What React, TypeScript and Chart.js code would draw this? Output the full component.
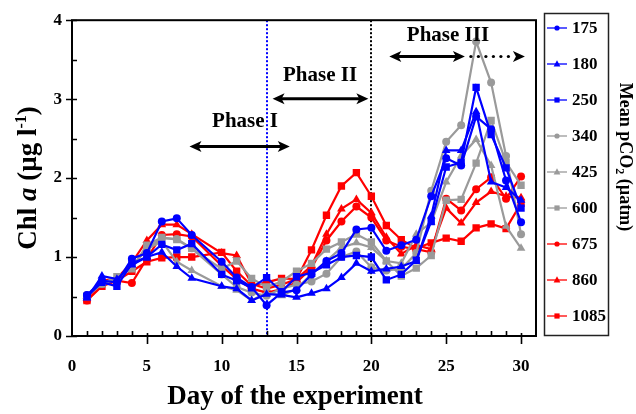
import { useEffect, useRef } from "react";
import { Chart, registerables } from "chart.js";

Chart.register(...registerables);

// Sampling days (no sample on day 9)
const days = [1, 2, 3, 4, 5, 6, 7, 8, 10, 11, 12, 13, 14, 15, 16, 17, 18, 19, 20, 21, 22, 23, 24, 25, 26, 27, 28, 29, 30];

// Chl a (µg l-1) per mesocosm, labelled by mean pCO2 (µatm)
const chl175 = [0.52, 0.70, 0.68, 0.98, 1.05, 1.45, 1.49, 1.28, 0.94, 0.74, 0.62, 0.39, 0.55, 0.58, 0.78, 0.95, 1.05, 1.35, 1.37, 1.08, 1.15, 1.22, 1.77, 2.25, 2.16, 2.78, 2.62, 1.97, 1.44];
const chl180 = [0.48, 0.76, 0.72, 0.90, 1.00, 1.06, 0.88, 0.73, 0.63, 0.60, 0.45, 0.53, 0.52, 0.49, 0.54, 0.60, 0.74, 0.92, 0.82, 0.85, 0.88, 0.95, 1.52, 2.35, 2.35, 2.84, 1.95, 1.88, 1.72];
const chl250 = [0.50, 0.68, 0.63, 0.92, 1.00, 1.16, 1.09, 1.17, 0.78, 0.70, 0.61, 0.74, 0.56, 0.75, 0.80, 0.90, 1.00, 1.02, 1.00, 0.71, 0.78, 0.96, 1.45, 2.14, 2.20, 3.15, 2.55, 2.13, 1.62];
const chl340 = [0.52, 0.66, 0.72, 0.88, 1.10, 1.24, 1.23, 1.11, 0.78, 0.62, 0.55, 0.51, 0.60, 0.65, 0.69, 0.79, 1.00, 1.07, 0.87, 0.83, 0.85, 1.05, 1.84, 2.46, 2.67, 3.73, 3.21, 2.28, 1.29];
const chl425 = [0.50, 0.68, 0.72, 0.88, 1.10, 1.20, 0.94, 0.83, 0.63, 0.58, 0.45, 0.55, 0.51, 0.60, 0.78, 0.95, 1.12, 1.18, 1.12, 0.95, 0.92, 1.29, 1.44, 1.95, 2.28, 2.49, 2.16, 1.39, 1.11];
const chl600 = [0.50, 0.66, 0.75, 0.85, 1.15, 1.25, 1.22, 1.11, 0.85, 0.95, 0.73, 0.62, 0.69, 0.82, 0.92, 1.10, 1.19, 1.29, 1.19, 0.95, 0.76, 0.86, 1.02, 1.72, 1.73, 2.19, 2.73, 2.20, 1.91];
const chl675 = [0.45, 0.65, 0.70, 0.67, 0.98, 1.28, 1.29, 1.26, 0.89, 0.72, 0.60, 0.55, 0.59, 0.68, 0.86, 1.21, 1.45, 1.64, 1.50, 1.21, 1.13, 1.10, 1.06, 1.74, 1.59, 1.86, 2.01, 1.74, 2.02];
const chl860 = [0.50, 0.70, 0.73, 0.93, 1.21, 1.41, 1.41, 1.29, 1.05, 1.02, 0.66, 0.60, 0.65, 0.72, 0.89, 1.29, 1.61, 1.73, 1.56, 1.25, 1.04, 1.15, 1.10, 1.62, 1.43, 1.69, 1.83, 1.77, 1.75];
const chl1085 = [0.45, 0.63, 0.70, 0.82, 0.94, 0.99, 1.00, 1.00, 1.06, 0.82, 0.64, 0.68, 0.73, 0.72, 1.09, 1.53, 1.90, 2.07, 1.77, 1.40, 1.22, 1.11, 1.18, 1.24, 1.20, 1.37, 1.42, 1.36, 1.68];

const pco2Labels = ["175", "180", "250", "340", "425", "600", "675", "860", "1085"];
const xTicks = [0, 5, 10, 15, 20, 25, 30];
const yTicks = [0, 1, 2, 3, 4];

// Phase boundaries (day) and phase labels
const phaseBoundaries = [13, 20];
const phaseLabels = ["Phase I", "Phase II", "Phase III"];

const BLUE = "#0000ff";
const GRAY = "#9a9a9a";
const RED = "#ff0000";
const SERIF = "'Liberation Serif', 'Times New Roman', serif";

const seriesValues = [chl175, chl180, chl250, chl340, chl425, chl600, chl675, chl860, chl1085];
const seriesColors = [BLUE, BLUE, BLUE, GRAY, GRAY, GRAY, RED, RED, RED];
const seriesShapes = ["circle", "triangle", "rect", "circle", "triangle", "rect", "circle", "triangle", "rect"];
const shapeRadius: Record<string, number> = { circle: 4, triangle: 5, rect: 5.2 };

function drawMarker(ctx: CanvasRenderingContext2D, shape: string, x: number, y: number, s: number) {
  ctx.beginPath();
  if (shape === "circle") {
    ctx.arc(x, y, s, 0, Math.PI * 2);
  } else if (shape === "triangle") {
    ctx.moveTo(x, y - s * 1.1);
    ctx.lineTo(x + s, y + s * 0.75);
    ctx.lineTo(x - s, y + s * 0.75);
    ctx.closePath();
  } else {
    ctx.rect(x - s, y - s, 2 * s, 2 * s);
  }
  ctx.fill();
}

function arrowHead(ctx: CanvasRenderingContext2D, tipX: number, y: number, dir: number) {
  ctx.beginPath();
  ctx.moveTo(tipX, y);
  ctx.lineTo(tipX - dir * 12, y - 5.5);
  ctx.lineTo(tipX - dir * 9, y);
  ctx.lineTo(tipX - dir * 12, y + 5.5);
  ctx.closePath();
  ctx.fill();
}

const decorPlugin = {
  id: "decor",
  beforeDatasetsDraw(chart: any) {
    const { ctx, chartArea: a, scales } = chart;
    const x = scales.x;
    ctx.save();
    ctx.lineWidth = 2;
    ctx.setLineDash([2, 2]);
    phaseBoundaries.forEach((d, i) => {
      const px = Math.round(x.getPixelForValue(d));
      ctx.strokeStyle = i === 0 ? BLUE : "#000";
      ctx.beginPath();
      ctx.moveTo(px, a.top);
      ctx.lineTo(px, a.bottom);
      ctx.stroke();
    });
    ctx.restore();
  },
  afterDatasetsDraw(chart: any) {
    const { ctx, scales } = chart;
    const x = scales.x;
    const y = scales.y;
    ctx.save();
    ctx.fillStyle = "#000";
    ctx.strokeStyle = "#000";
    ctx.lineWidth = 3.2;

    const arrows = [
      { from: 7.85, to: 14.55, level: 2.4 },
      { from: 13.4, to: 19.8, level: 3.005 },
    ];
    arrows.forEach((ar) => {
      const x1 = x.getPixelForValue(ar.from);
      const x2 = x.getPixelForValue(ar.to);
      const py = y.getPixelForValue(ar.level);
      ctx.beginPath();
      ctx.moveTo(x1 + 8, py);
      ctx.lineTo(x2 - 8, py);
      ctx.stroke();
      arrowHead(ctx, x1, py, -1);
      arrowHead(ctx, x2, py, 1);
    });

    // Phase III: solid double arrow, then dotted continuation
    const p3y = y.getPixelForValue(3.54);
    const p3a = x.getPixelForValue(21.2);
    const p3b = x.getPixelForValue(26.25);
    const p3c = x.getPixelForValue(30.26);
    ctx.beginPath();
    ctx.moveTo(p3a + 8, p3y);
    ctx.lineTo(p3b - 8, p3y);
    ctx.stroke();
    arrowHead(ctx, p3a, p3y, -1);
    arrowHead(ctx, p3b, p3y, 1);
    for (let dx = p3b + 6; dx < p3c - 10; dx += 7.5) {
      ctx.beginPath();
      ctx.arc(dx, p3y, 1.6, 0, Math.PI * 2);
      ctx.fill();
    }
    arrowHead(ctx, p3c, p3y, 1);

    ctx.font = `bold 21px ${SERIF}`;
    ctx.textAlign = "center";
    ctx.textBaseline = "middle";
    const labelPos = [
      [11.56, 2.71],
      [16.57, 3.3],
      [25.12, 3.8],
    ];
    phaseLabels.forEach((t, i) => {
      ctx.fillText(t, x.getPixelForValue(labelPos[i][0]), y.getPixelForValue(labelPos[i][1]));
    });
    ctx.restore();
  },
  afterDraw(chart: any) {
    const { ctx, chartArea: a, scales } = chart;
    const x = scales.x;
    const y = scales.y;
    ctx.save();
    ctx.strokeStyle = "#000";
    ctx.lineWidth = 2;
    ctx.strokeRect(a.left, a.top, a.right - a.left, a.bottom - a.top);

    // tick marks: major ones cross the axis, minor ones point inward
    ctx.lineWidth = 1.6;
    ctx.beginPath();
    for (let d = 1; d < 31; d++) {
      const px = Math.round(x.getPixelForValue(d)) + 0.5;
      if (d % 5 === 0) {
        ctx.moveTo(px, a.bottom - 3);
        ctx.lineTo(px, a.bottom + 8);
      } else {
        ctx.moveTo(px, a.bottom - 5);
        ctx.lineTo(px, a.bottom);
      }
    }
    for (let v = 0; v <= 4; v += 0.5) {
      const py = Math.round(y.getPixelForValue(v)) + 0.5;
      if (v % 1 === 0) {
        ctx.moveTo(a.left - 6, py);
        ctx.lineTo(a.left + 5, py);
      } else {
        ctx.moveTo(a.left, py);
        ctx.lineTo(a.left + 5, py);
      }
    }
    ctx.stroke();

    // axis titles
    ctx.fillStyle = "#000";
    ctx.font = `bold 27px ${SERIF}`;
    ctx.textAlign = "center";
    ctx.textBaseline = "middle";
    ctx.fillText("Day of the experiment", 295, 397);

    const parts = [
      { t: "Chl ", f: `bold 27px ${SERIF}`, dy: 0 },
      { t: "a", f: `italic bold 27px ${SERIF}`, dy: 0 },
      { t: " (µg l", f: `bold 27px ${SERIF}`, dy: 0 },
      { t: "-1", f: `bold 16px ${SERIF}`, dy: -10 },
      { t: ")", f: `bold 27px ${SERIF}`, dy: 0 },
    ];
    ctx.textAlign = "left";
    ctx.textBaseline = "alphabetic";
    let total = 0;
    parts.forEach((p) => {
      ctx.font = p.f;
      total += ctx.measureText(p.t).width;
    });
    ctx.save();
    ctx.translate(27, 178);
    ctx.rotate(-Math.PI / 2);
    let cx = -total / 2;
    parts.forEach((p) => {
      ctx.font = p.f;
      ctx.fillText(p.t, cx, 9 + p.dy);
      cx += ctx.measureText(p.t).width;
    });
    ctx.restore();

    // legend
    const lx = 544.5;
    const ly = 13.5;
    ctx.strokeStyle = "#222";
    ctx.lineWidth = 1.5;
    ctx.strokeRect(lx, ly, 64, 322);
    ctx.font = `bold 17px ${SERIF}`;
    ctx.textBaseline = "middle";
    pco2Labels.forEach((lab, i) => {
      const ey = 28 + i * 36;
      ctx.strokeStyle = seriesColors[i];
      ctx.fillStyle = seriesColors[i];
      ctx.lineWidth = 1.3;
      ctx.beginPath();
      ctx.moveTo(547, ey);
      ctx.lineTo(567, ey);
      ctx.stroke();
      const sh = seriesShapes[i];
      drawMarker(ctx, sh, 557, ey, sh === "circle" ? 2.6 : sh === "triangle" ? 3.4 : 2.6);
      ctx.fillStyle = "#000";
      ctx.fillText(lab, 572, ey + 1);
    });

    const lparts = [
      { t: "Mean pCO", f: `bold 18px ${SERIF}`, dy: 0 },
      { t: "2", f: `bold 12px ${SERIF}`, dy: 4 },
      { t: " (µatm)", f: `bold 18px ${SERIF}`, dy: 0 },
    ];
    ctx.textBaseline = "alphabetic";
    let ltotal = 0;
    lparts.forEach((p) => {
      ctx.font = p.f;
      ltotal += ctx.measureText(p.t).width;
    });
    ctx.save();
    ctx.translate(626, 157);
    ctx.rotate(Math.PI / 2);
    let lcx = -ltotal / 2;
    lparts.forEach((p) => {
      ctx.font = p.f;
      ctx.fillText(p.t, lcx, 6 + p.dy);
      lcx += ctx.measureText(p.t).width;
    });
    ctx.restore();
    ctx.restore();
  },
};

export default function App() {
  const canvasRef = useRef<HTMLCanvasElement | null>(null);

  useEffect(() => {
    const canvas = canvasRef.current;
    if (!canvas) return;
    const datasets = seriesValues.map((vals, i) => ({
      label: pco2Labels[i],
      data: days.map((d, k) => ({ x: d, y: vals[k] })),
      borderColor: seriesColors[i],
      backgroundColor: seriesColors[i],
      pointBackgroundColor: seriesColors[i],
      pointBorderColor: seriesColors[i],
      pointStyle: seriesShapes[i],
      pointRadius: shapeRadius[seriesShapes[i]],
      pointBorderWidth: 0,
      borderWidth: 2.2,
      tension: 0,
      fill: false,
    }));

    const chart = new Chart(canvas, {
      type: "line",
      data: { datasets },
      options: {
        responsive: false,
        animation: false,
        layout: { padding: { left: 0, right: 100, top: 13, bottom: 0 } },
        plugins: { legend: { display: false }, tooltip: { enabled: false } },
        scales: {
          x: {
            type: "linear",
            min: 0,
            max: 31,
            afterBuildTicks: (s: any) => {
              s.ticks = xTicks.map((v) => ({ value: v }));
            },
            afterFit: (s: any) => {
              s.height = 78;
            },
            grid: { display: false, drawTicks: false },
            border: { display: false },
            ticks: {
              color: "#000",
              font: { family: SERIF, size: 17, weight: "bold" },
              padding: 20,
              maxRotation: 0,
              autoSkip: false,
            },
          },
          y: {
            type: "linear",
            min: 0,
            max: 4,
            afterBuildTicks: (s: any) => {
              s.ticks = yTicks.map((v) => ({ value: v }));
            },
            afterFit: (s: any) => {
              s.width = 72;
            },
            grid: { display: false, drawTicks: false },
            border: { display: false },
            ticks: {
              color: "#000",
              font: { family: SERIF, size: 17, weight: "bold" },
              padding: 10,
            },
          },
        },
      },
      plugins: [decorPlugin],
    } as any);

    return () => chart.destroy();
  }, []);

  return (
    <div style={{ position: "absolute", left: 0, top: 0, width: 636, height: 414, background: "#fff" }}>
      <canvas ref={canvasRef} width={636} height={414} />
    </div>
  );
}
